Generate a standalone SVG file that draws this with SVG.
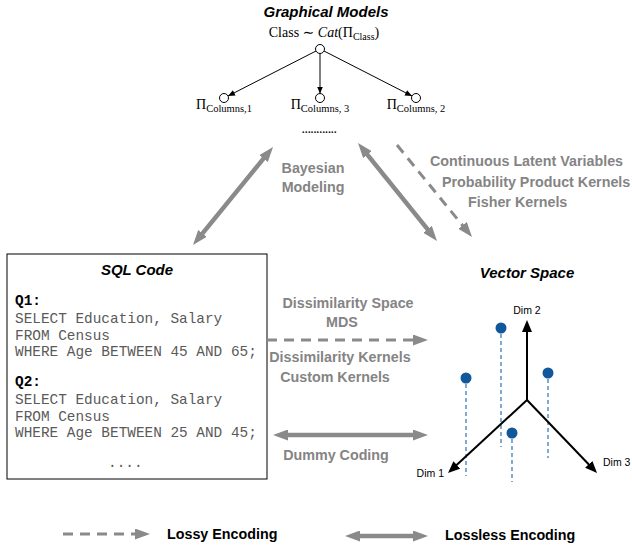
<svg xmlns="http://www.w3.org/2000/svg" width="632" height="545" viewBox="0 0 632 545">
<style>
.title{font-family:"Liberation Sans",Arial,sans-serif;font-weight:bold;font-style:italic;font-size:15px;fill:#000}
.lbl{font-family:"Liberation Sans",Arial,sans-serif;font-weight:bold;font-size:14.3px;fill:#848484}
.leg{font-family:"Liberation Sans",Arial,sans-serif;font-weight:bold;font-size:14.3px;fill:#000}
.math{font-family:"Liberation Serif","DejaVu Serif",serif;font-size:14px;fill:#000}
.code{font-family:"Liberation Mono","Courier New",monospace;font-size:14.4px;fill:#5a5a5a}
.codeb{font-family:"Liberation Mono","Courier New",monospace;font-size:14.4px;font-weight:bold;fill:#000}
.dim{font-family:"Liberation Sans",Arial,sans-serif;font-size:10.5px;fill:#000}
.gsolid{stroke:#8a8a8a;stroke-width:4.5;fill:none}
.gdash{stroke:#8a8a8a;stroke-width:3;fill:none;stroke-dasharray:10 7}
.edge{stroke:#000;stroke-width:1;fill:none}
.axis{stroke:#000;stroke-width:2;fill:none}
.node{fill:#fff;stroke:#000;stroke-width:1}
.pt{fill:#11579b}
.drop{stroke:#4a86be;stroke-width:1.4;stroke-dasharray:4 3;fill:none}
</style>
<defs>
<marker id="gh" markerUnits="userSpaceOnUse" markerWidth="15" markerHeight="11" refX="5" refY="5.5" orient="auto-start-reverse">
<path d="M0,0 L15,5.5 L0,11 z" fill="#8a8a8a"/>
</marker>
<marker id="bh" markerUnits="userSpaceOnUse" markerWidth="7" markerHeight="6" refX="7" refY="3" orient="auto">
<path d="M0,0 L7,3 L0,6 z" fill="#000"/>
</marker>
<marker id="ah" markerUnits="userSpaceOnUse" markerWidth="12" markerHeight="10" refX="4" refY="5" orient="auto">
<path d="M0,0 L12,5 L0,10 z" fill="#000"/>
</marker>
</defs>

<g id="graphical-models">
<text class="title" x="326" y="17" text-anchor="middle">Graphical Models</text>
<text class="math" x="324" y="37" text-anchor="middle">Class ∼ <tspan font-style="italic">Cat</tspan>(Π<tspan font-size="10" dy="3">Class</tspan><tspan dy="-3">)</tspan></text>
<line class="edge" x1="316" y1="51" x2="228" y2="96" marker-end="url(#bh)"/>
<line class="edge" x1="320" y1="53.5" x2="320" y2="93.5" marker-end="url(#bh)"/>
<line class="edge" x1="324" y1="51" x2="412" y2="96" marker-end="url(#bh)"/>
<circle class="node" cx="320" cy="49" r="4.5"/>
<circle class="node" cx="224" cy="98" r="4.5"/>
<circle class="node" cx="320" cy="98" r="4.5"/>
<circle class="node" cx="416" cy="98" r="4.5"/>
<text class="math" x="224" y="109" text-anchor="middle">Π<tspan font-size="10.5" dy="3">Columns,1</tspan></text>
<text class="math" x="320" y="109" text-anchor="middle">Π<tspan font-size="10.5" dy="3">Columns, 3</tspan></text>
<text class="math" x="416" y="109" text-anchor="middle">Π<tspan font-size="10.5" dy="3">Columns, 2</tspan></text>
<text class="math" x="319" y="133" text-anchor="middle" font-size="7" letter-spacing="-0.6">............</text>
</g>

<g id="sql-code">
<rect x="7" y="254" width="260" height="225" fill="#fff" stroke="#000" stroke-width="1"/>
<text class="title" x="137" y="275" text-anchor="middle">SQL Code</text>
<text class="codeb" x="15" y="305">Q1:</text>
<text class="code" x="15" y="323">SELECT Education, Salary</text>
<text class="code" x="15" y="339.5">FROM Census</text>
<text class="code" x="15" y="356">WHERE Age BETWEEN 45 AND 65;</text>
<text class="codeb" x="15" y="386">Q2:</text>
<text class="code" x="15" y="404">SELECT Education, Salary</text>
<text class="code" x="15" y="420.5">FROM Census</text>
<text class="code" x="15" y="437">WHERE Age BETWEEN 25 AND 45;</text>
<text class="code" x="108" y="467">....</text>
</g>

<g id="vector-space">
<text class="title" x="527" y="278" text-anchor="middle">Vector Space</text>
<line class="drop" x1="501" y1="334" x2="501" y2="447"/>
<line class="drop" x1="466" y1="384" x2="466" y2="476"/>
<line class="drop" x1="548" y1="379" x2="548" y2="458"/>
<line class="drop" x1="512" y1="439" x2="512" y2="482"/>
<line class="axis" x1="527" y1="400" x2="527" y2="328" marker-end="url(#ah)"/>
<line class="axis" x1="527" y1="400" x2="453.9" y2="467.6" marker-end="url(#ah)"/>
<line class="axis" x1="527" y1="400" x2="591.5" y2="467.2" marker-end="url(#ah)"/>
<circle class="pt" cx="501" cy="328" r="5.5"/>
<circle class="pt" cx="466" cy="378" r="5.5"/>
<circle class="pt" cx="548" cy="373" r="5.5"/>
<circle class="pt" cx="512" cy="433" r="5.5"/>
<text class="dim" x="527" y="314" text-anchor="middle">Dim 2</text>
<text class="dim" x="444" y="477" text-anchor="end">Dim 1</text>
<text class="dim" x="603" y="466">Dim 3</text>
</g>

<g id="connectors">
<line class="gsolid" x1="199.3" y1="237.3" x2="266.7" y2="154.7" marker-start="url(#gh)" marker-end="url(#gh)"/>
<line class="gsolid" x1="364.3" y1="150.8" x2="430.7" y2="233.2" marker-start="url(#gh)" marker-end="url(#gh)"/>
<line class="gdash" x1="397" y1="145" x2="465.7" y2="229.3" marker-end="url(#gh)"/>
<line class="gdash" x1="267" y1="340" x2="418" y2="340" marker-end="url(#gh)"/>
<line class="gsolid" x1="283" y1="435" x2="418" y2="435" marker-start="url(#gh)" marker-end="url(#gh)"/>
</g>

<g id="labels">
<text class="lbl" x="313" y="173" text-anchor="middle">Bayesian</text>
<text class="lbl" x="313" y="192" text-anchor="middle">Modeling</text>
<text class="lbl" x="430" y="166">Continuous Latent Variables</text>
<text class="lbl" x="442" y="187">Probability Product Kernels</text>
<text class="lbl" x="468" y="207">Fisher Kernels</text>
<text class="lbl" x="348" y="308" text-anchor="middle">Dissimilarity Space</text>
<text class="lbl" x="342" y="327" text-anchor="middle">MDS</text>
<text class="lbl" x="340" y="362" text-anchor="middle">Dissimilarity Kernels</text>
<text class="lbl" x="335" y="382" text-anchor="middle">Custom Kernels</text>
<text class="lbl" x="336" y="460" text-anchor="middle">Dummy Coding</text>
</g>

<g id="legend">
<line class="gdash" x1="63" y1="534" x2="140" y2="534" marker-end="url(#gh)"/>
<text class="leg" x="167" y="539">Lossy Encoding</text>
<line class="gsolid" x1="355" y1="536" x2="418" y2="536" marker-start="url(#gh)" marker-end="url(#gh)"/>
<text class="leg" x="445" y="540">Lossless Encoding</text>
</g>
</svg>
